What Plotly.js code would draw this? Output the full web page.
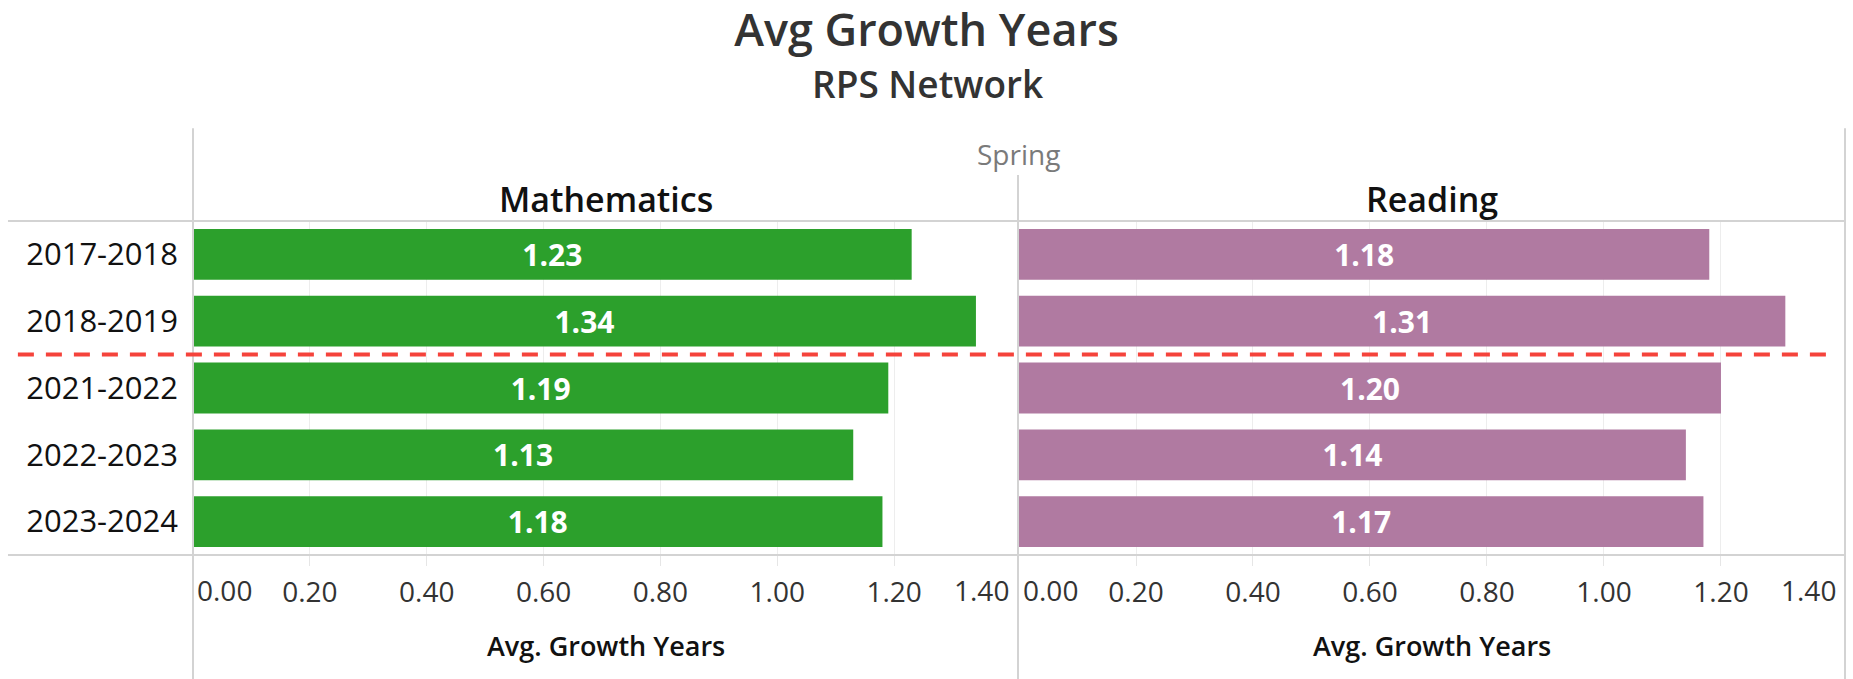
<!DOCTYPE html>
<html>
<head>
<meta charset="utf-8">
<script src="https://cdn.plot.ly/plotly-3.0.1.min.js"></script>
<style>
  html, body { margin: 0; padding: 0; background: #fff; }
  #chart { width: 1853px; height: 679px; }
</style>
</head>
<body>
<div id="chart"></div>
<script>
// School years (rows) and the average growth per subject
const years = ['2017-2018', '2018-2019', '2021-2022', '2022-2023', '2023-2024'];
const mathValues = [1.23, 1.34, 1.19, 1.13, 1.18];
const readingValues = [1.18, 1.31, 1.20, 1.14, 1.17];

// Axis ticks: inner ticks go through the axis, the two edge labels are pinned inside the pane
const tickValues = [0.2, 0.4, 0.6, 0.8, 1.0, 1.2];
const tickLabels = ['0.20', '0.40', '0.60', '0.80', '1.00', '1.20'];
const edgeTickValues = [0, 1.4];
const edgeTickLabels = ['0.00', '1.40'];

const subjects = ['Mathematics', 'Reading'];
const season = 'Spring';
const axisTitle = 'Avg. Growth Years';
// Break between pre- and post-pandemic years (between rows 2 and 3)
const breakAfterIndex = 1;

const FONT = '"Open Sans", "Noto Sans", sans-serif';
const GREEN = '#2ca02c';
const PURPLE = '#b07aa1';
const BORDER = '#d3d3d3';
const GRID = '#ededed';

function barTrace(values, color, xaxis) {
  return {
    type: 'bar',
    orientation: 'h',
    x: values,
    y: years,
    xaxis: xaxis,
    yaxis: 'y',
    marker: { color: color, line: { width: 0 } },
    texttemplate: '%{x:.2f}',
    textposition: 'inside',
    insidetextanchor: 'middle',
    textangle: 0,
    constraintext: 'none',
    textfont: { family: FONT, size: 30, color: '#ffffff', weight: 700 },
    hoverinfo: 'skip',
    showlegend: false
  };
}

function xAxis(domain) {
  return {
    domain: domain,
    range: [0, 1.412],
    tickvals: tickValues,
    ticktext: tickLabels,
    tickfont: { family: FONT, size: 28, color: '#333333' },
    ticks: 'outside',
    ticklen: 10,
    tickcolor: '#e6e6e6',
    ticklabelstandoff: 2,
    showgrid: true,
    gridcolor: GRID,
    gridwidth: 1,
    zeroline: false,
    showline: false,
    fixedrange: true
  };
}

const mathDomain = [0, 0.4994];
const readDomain = [0.5, 1];

const annotations = [];
// Edge tick labels for both panes
[['x', 0], ['x2', 1]].forEach(([ax]) => {
  edgeTickValues.forEach((v, i) => {
    annotations.push({
      xref: ax, yref: 'paper', x: v, y: 0,
      text: edgeTickLabels[i], showarrow: false,
      xanchor: i === 0 ? 'left' : 'right', yanchor: 'top',
      xshift: i === 0 ? 2 : 0, yshift: -14,
      font: { family: FONT, size: 28, color: '#333333' }
    });
  });
});
// Subject headers and axis titles
subjects.forEach((s, i) => {
  const dom = i === 0 ? mathDomain : readDomain;
  const cx = (dom[0] + dom[1]) / 2;
  annotations.push({
    xref: 'paper', yref: 'paper', x: cx, y: 1.066,
    text: s, showarrow: false, xanchor: 'center', yanchor: 'middle',
    font: { family: FONT, size: 34, color: '#111111', weight: 600 }
  });
  annotations.push({
    xref: 'paper', yref: 'paper', x: cx, y: -0.272,
    text: axisTitle, showarrow: false, xanchor: 'center', yanchor: 'middle',
    font: { family: FONT, size: 27, color: '#111111', weight: 600 }
  });
});
// Season header and subtitle
annotations.push({
  xref: 'paper', yref: 'paper', x: 0.4994, y: 1.2006,
  text: season, showarrow: false, xanchor: 'center', yanchor: 'middle',
  font: { family: FONT, size: 28, color: '#7a7a7a' }
});
annotations.push({
  xref: 'paper', yref: 'paper', x: 0.4448, y: 1.413,
  text: 'RPS Network', showarrow: false, xanchor: 'center', yanchor: 'middle',
  font: { family: FONT, size: 37, color: '#333333', weight: 600 }
});

const lineStyle = { color: BORDER, width: 2 };
const shapes = [
  // pane borders
  { type: 'line', xref: 'paper', yref: 'paper', x0: 0, x1: 0, y0: -0.371, y1: 1.278, line: lineStyle },
  { type: 'line', xref: 'paper', yref: 'paper', x0: 0.4994, x1: 0.4994, y0: -0.371, y1: 1.138, line: lineStyle },
  { type: 'line', xref: 'paper', yref: 'paper', x0: 1, x1: 1, y0: -0.371, y1: 1.278, line: lineStyle },
  { type: 'line', xref: 'paper', yref: 'paper', x0: -0.112, x1: 1, y0: 1, y1: 1, line: lineStyle },
  { type: 'line', xref: 'paper', yref: 'paper', x0: -0.112, x1: 1, y0: 0, y1: 0, line: lineStyle },
  // dashed break line
  { type: 'line', xref: 'paper', yref: 'y', x0: -0.106, x1: 0.990,
    y0: breakAfterIndex + 0.5, y1: breakAfterIndex + 0.5,
    line: { color: '#f5433b', width: 4, dash: '16px,12px' }, layer: 'above' }
];

const layout = {
  width: 1853,
  height: 679,
  margin: { l: 193, r: 8, t: 221, b: 124 },
  paper_bgcolor: '#ffffff',
  plot_bgcolor: '#ffffff',
  font: { family: FONT, color: '#333333' },
  title: {
    text: 'Avg Growth Years',
    font: { family: FONT, size: 45, color: '#333333', weight: 600 },
    x: 0.5, xref: 'container', xanchor: 'center',
    y: 0.956, yref: 'container', yanchor: 'middle'
  },
  bargap: 0.24,
  xaxis: xAxis(mathDomain),
  xaxis2: Object.assign(xAxis(readDomain), { anchor: 'y' }),
  yaxis: {
    type: 'category',
    categoryorder: 'array',
    categoryarray: years,
    autorange: 'reversed',
    tickfont: { family: FONT, size: 31, color: '#111111' },
    ticks: '',
    ticklabelstandoff: 14,
    showgrid: false,
    zeroline: false,
    showline: false,
    fixedrange: true
  },
  annotations: annotations,
  shapes: shapes
};

Plotly.newPlot('chart', [
  barTrace(mathValues, GREEN, 'x'),
  barTrace(readingValues, PURPLE, 'x2')
], layout, { staticPlot: true, displayModeBar: false });
</script>
</body>
</html>
